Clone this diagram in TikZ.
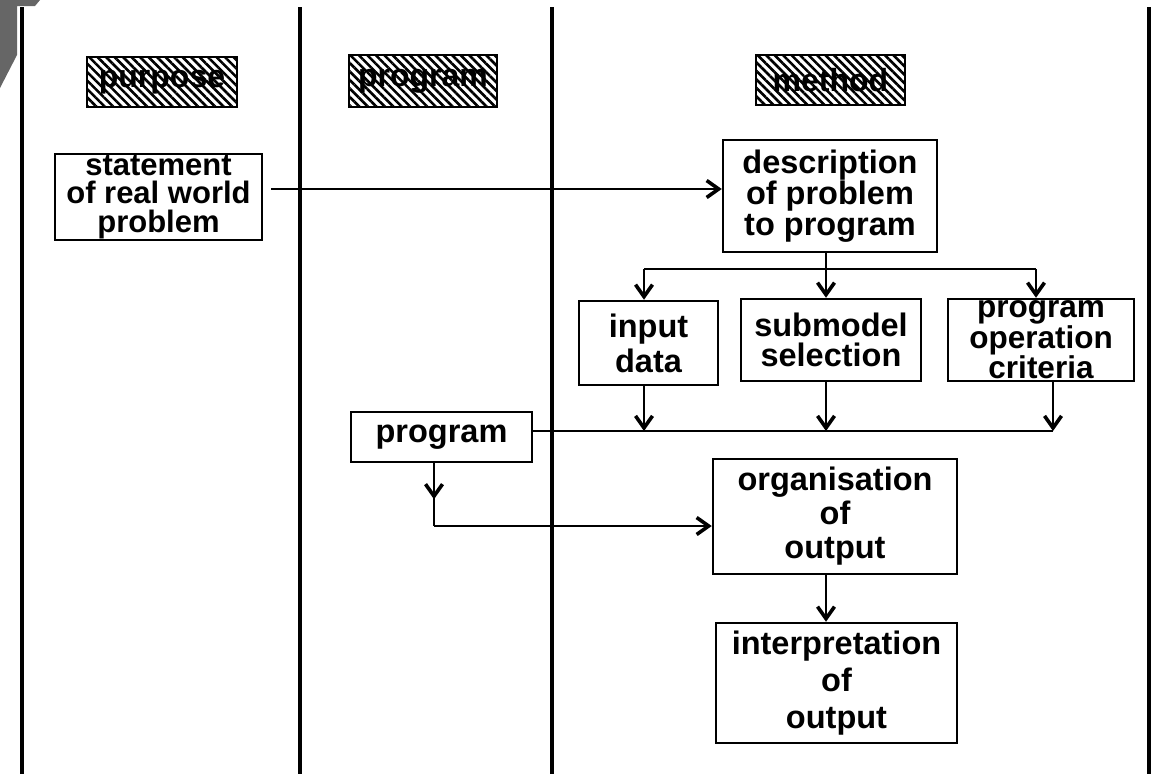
\documentclass[tikz,border=0pt]{standalone}
\usepackage{fontspec}
\setmainfont{Liberation Sans}
\usetikzlibrary{arrows.meta,patterns.meta,decorations.markings}
\tikzset{
  boxed/.style={draw, line width=2.5pt, inner sep=0pt, align=center},
  hatched/.style={draw, line width=2.5pt, inner sep=0pt,
    pattern={Lines[angle=-45,distance=6pt,line width=2.6pt]}, pattern color=black,
    font=\fontsize{32}{32}\selectfont\bfseries},
  col/.style={line width=4.5pt},
  conn/.style={line width=2.2pt},
  arr/.style={conn, -{Straight Barb[length=12pt,width=17pt,line width=3.6pt]}},
}
\newcommand{\bxs}[2]{\fontsize{#1}{#2}\selectfont\bfseries}
\begin{document}
\begin{tikzpicture}[x=1pt,y=-1pt]
\path[use as bounding box] (0,0) rectangle (1153,774);
% page corner
\fill[black!60] (0,0) -- (40,0) -- (35,6) -- (17,6) -- (17,55) -- (0,88) -- cycle;
% column lines
\draw[col] (22,7) -- (22,774);
\draw[col] (300,7) -- (300,774);
\draw[col] (552,7) -- (552,774);
\draw[col] (1149,7) -- (1149,774);
% headers
\node[hatched, minimum width=150pt, minimum height=50pt] (hpur) at (162,82) {purpose};
\node[hatched, minimum width=148pt, minimum height=52pt] (hprg) at (423,81) {program};
\node[hatched, minimum width=149pt, minimum height=50pt] (hmet) at (830.5,80) {method};
% boxes
\node[boxed, minimum width=207pt, minimum height=86pt, font={\bxs{31}{28.5}}] (stmt) at (158.5,197) {statement\\of real world\\problem};
\node[boxed, minimum width=214pt, minimum height=112pt, font={\bxs{32.5}{31}}] (desc) at (830,196) {description\\of problem\\to program};
\node[boxed, minimum width=139pt, minimum height=84pt, font={\bxs{32.5}{35}}] (inp) at (648.5,343) {input\\data};
\node[boxed, minimum width=180pt, minimum height=82pt, font={\bxs{32.5}{30}}] (sub) at (831,340) {submodel\\selection};
\node[boxed, minimum width=186pt, minimum height=82pt, font={\bxs{31.5}{28}}] (crit) at (1041,340) {program\\operation\\criteria};
\node[boxed, minimum width=181pt, minimum height=50pt, font={\bxs{32.5}{32}}] (prog) at (441.5,437) {program};
\node[boxed, minimum width=244pt, minimum height=115pt, font={\bxs{32.5}{34}}] (org) at (835,516.5) {organisation\\of\\output};
\node[boxed, minimum width=241pt, minimum height=120pt, font={\bxs{32.5}{37}}] (interp) at (836.5,683) {interpretation\\of\\output};
% helper coordinates
\coordinate (a1) at (270,189);
\coordinate (br) at (826,269);
\coordinate (b1) at (644,269);
\coordinate (b3) at (1036,269);
\coordinate (bus) at (1053,431);
\coordinate (c1) at (644,431);
\coordinate (c2) at (826,431);
\coordinate (pd) at (434,526);
% connectors
\draw[arr, shorten <=8pt] (stmt.east |- a1) -- (desc.west |- a1);
\draw[conn] (desc.south -| br) -- (br);
\draw[conn] (b1) -- (b3);
\draw[arr] (b1) -- (b1 |- inp.north);
\draw[arr] (br) -- (br |- sub.north);
\draw[arr] (b3) -- (b3 |- crit.north);
\draw[conn] (prog.east |- bus) -- (bus);
\draw[arr] (inp.south -| c1) -- (c1);
\draw[arr] (sub.south -| c2) -- (c2);
\draw[arr] (crit.south -| bus) -- (bus);
\draw[conn, postaction={decorate}, decoration={markings, mark=at position 36pt with {\arrow{Straight Barb[length=12pt,width=17pt,line width=3.6pt]}}}]
  (prog.south -| pd) -- (pd);
\draw[arr] (pd) -- (org.west |- pd);
\draw[arr] (org.south -| br) -- (interp.north -| br);
\end{tikzpicture}
\end{document}
